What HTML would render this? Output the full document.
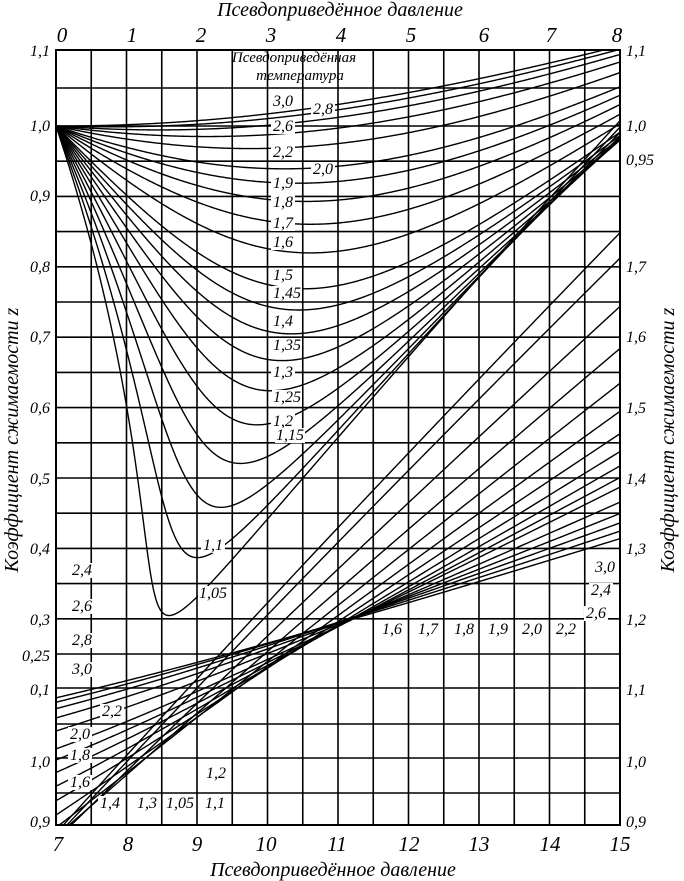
<!DOCTYPE html>
<html><head><meta charset="utf-8"><style>
html,body{margin:0;padding:0;background:#fff}
svg{display:block}
text{font-family:"Liberation Serif",serif;font-style:italic;fill:#000}
</style></head><body>
<svg id="s" width="684" height="881" viewBox="0 0 684 881" xmlns="http://www.w3.org/2000/svg">
<defs><clipPath id="c"><rect x="56" y="50" width="564" height="775"/></clipPath></defs>
<g id="grid" stroke="#000" stroke-width="1.6" fill="none"></g>
<g id="curves" clip-path="url(#c)" stroke="#000" stroke-width="1.4" fill="none"></g>
<rect x="56" y="50" width="564" height="775" fill="none" stroke="#000" stroke-width="2"/>
<g font-size="21" text-anchor="middle" font-style="italic">
<text x="340" y="16" font-size="20" font-style="italic">Псевдоприведённое давление</text>
<text x="62" y="42">0</text><text x="132" y="42">1</text><text x="201" y="42">2</text><text x="271" y="42">3</text><text x="341" y="42">4</text><text x="411" y="42">5</text><text x="484" y="42">6</text><text x="551" y="42">7</text><text x="617" y="42">8</text>
<text x="58" y="851">7</text><text x="128" y="851">8</text><text x="197" y="851">9</text><text x="266" y="851">10</text><text x="337" y="851">11</text><text x="409" y="851">12</text><text x="479" y="851">13</text><text x="550" y="851">14</text><text x="620" y="851">15</text>
<text x="333" y="876" font-size="20" font-style="italic">Псевдоприведённое давление</text>
<text transform="translate(18,440) rotate(-90)" font-size="20" font-style="italic">Коэффициент сжимаемости z</text>
<text transform="translate(674,440) rotate(-90)" font-size="20" font-style="italic">Коэффициент сжимаемости z</text>
</g>
<g font-size="16" text-anchor="end" font-style="italic">
<text x="50" y="56">1,1</text><text x="50" y="131">1,0</text><text x="50" y="201">0,9</text><text x="50" y="272">0,8</text><text x="50" y="342">0,7</text><text x="50" y="413">0,6</text><text x="50" y="484">0,5</text><text x="50" y="554">0,4</text><text x="50" y="625">0,3</text><text x="50" y="661">0,25</text><text x="50" y="695">0,1</text><text x="50" y="767">1,0</text><text x="50" y="827">0,9</text>
</g>
<g font-size="16" text-anchor="start" font-style="italic">
<text x="626" y="56">1,1</text><text x="626" y="131">1,0</text><text x="626" y="165">0,95</text><text x="626" y="272">1,7</text><text x="626" y="342">1,6</text><text x="626" y="413">1,5</text><text x="626" y="484">1,4</text><text x="626" y="554">1,3</text><text x="626" y="625">1,2</text><text x="626" y="695">1,1</text><text x="626" y="767">1,0</text><text x="626" y="827">0,9</text>
</g>
<g id="lbl" font-size="16" text-anchor="middle" font-style="italic"></g>
<g font-size="15" text-anchor="middle" font-style="italic">
<text x="294" y="62">Псевдоприведённая</text><text x="300" y="80">температура</text>
</g>
<script>
var NS="http://www.w3.org/2000/svg";
function el(t,a,p){var e=document.createElementNS(NS,t);for(var k in a)e.setAttribute(k,a[k]);p.appendChild(e);return e;}
var g=document.getElementById('grid');
for(var i=1;i<16;i++){var x=56+i*35.25;el('line',{x1:x,y1:50,x2:x,y2:825},g);}
var ys=[88];for(var z=1.0;z>0.24;z-=0.05){ys.push(126+(1-z)*704);}
ys=ys.concat([688,724,758,793]);
ys.forEach(function(y){el('line',{x1:56,y1:y,x2:620,y2:y},g);});
function hy(T,P,y0){var t=1/T,A=0.06125*t*Math.exp(-1.2*(1-t)*(1-t)),B=14.76*t-9.76*t*t+4.58*t*t*t,C=90.7*t-242.2*t*t+42.4*t*t*t,D=2.18+2.82*t;
var y=y0;for(var k=0;k<100;k++){var y2=y*y,y3=y2*y,y4=y3*y,om=1-y;
var f=-A*P+(y+y2+y3-y4)/(om*om*om)-B*y2+C*Math.pow(y,D);
var df=(1+4*y+4*y2-4*y3+y4)/(om*om*om*om)-2*B*y+C*D*Math.pow(y,D-1);
var yn=y-f/df;if(yn<=0)yn=y/2;if(yn>=1)yn=(y+1)/2;if(Math.abs(yn-y)<1e-10){y=yn;break;}y=yn;}
return [A*P/y,y];}
var cg=document.getElementById('curves');
function curve(T,p0,p1,fx,fy){var d="",y=0.0005,n=400;for(var i=0;i<=n;i++){var p=p0+(p1-p0)*i/n;if(p<0.001)p=0.001;var r=hy(T,p,y);y=r[1];var X=fx(p),Y=fy(r[0]);d+=(i?"L":"M")+X.toFixed(2)+","+Y.toFixed(2);}el('path',{d:d},cg);}
var up=[1.05,1.1,1.15,1.2,1.25,1.3,1.35,1.4,1.45,1.5,1.6,1.7,1.8,1.9,2.0,2.2,2.4,2.6,2.8,3.0];
up.forEach(function(T){curve(T,0,8,function(p){return 56+70.5*p},function(z){return 126+(1-z)*704});});
var lo=[1.05,1.1,1.2,1.3,1.4,1.5,1.6,1.7,1.8,1.9,2.0,2.2,2.4,2.6,2.8,3.0];
lo.forEach(function(T){curve(T,7,15,function(p){return 56+70.5*(p-7)},function(z){return 620-(z-1.2)*704});});
var L=document.getElementById('lbl');
var labs=[["3,0",283,106],["2,8",323,114],["2,6",283,131],["2,2",283,157],["2,0",323,174],["1,9",283,188],["1,8",283,207],["1,7",283,228],["1,6",283,247],["1,5",283,280],["1,45",287,298],["1,4",283,326],["1,35",287,350],["1,3",283,377],["1,25",287,402],["1,2",283,426],["1,15",290,440],["1,1",213,550],["1,05",213,598],
["2,4",82,575],["2,6",82,611],["2,8",82,645],["3,0",82,674],["2,2",112,716],["2,0",80,739],["1,8",80,760],["1,6",80,787],["1,4",110,808],["1,3",147,808],["1,05",180,808],["1,1",215,808],["1,2",216,778],
["1,6",392,634],["1,7",428,634],["1,8",464,634],["1,9",498,634],["2,0",532,634],["2,2",566,634],["2,6",596,618],["2,4",601,595],["3,0",605,572]];
labs.forEach(function(a){var w=a[0].length>3?30:24;el('rect',{x:a[1]-w/2,y:a[2]-12,width:w,height:15,fill:'#fff'},L);var t=el('text',{x:a[1],y:a[2]},L);t.textContent=a[0];});
</script>
</svg>
</body></html>
